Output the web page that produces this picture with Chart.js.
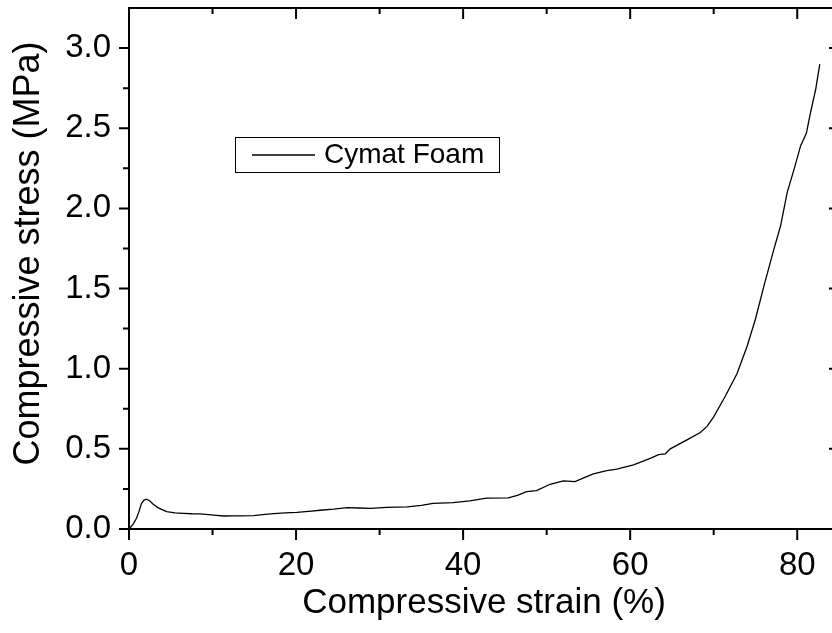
<!DOCTYPE html>
<html>
<head>
<meta charset="utf-8">
<title>Cymat Foam</title>
<script src="https://cdn.jsdelivr.net/npm/chart.js@4"></script>
<style>
  html, body { margin: 0; padding: 0; background: #fff; overflow: hidden; }
  #caja { position: absolute; left: 0; top: 0; width: 852px; height: 633px; }
</style>
</head>
<body>
<div id="caja"><canvas id="grafico"></canvas></div>
<script>
// curva de compresion (deformacion en %, tension en MPa)
const deformacion = [0, 0.5, 0.9, 1.2, 1.5, 1.8, 2.1, 2.5, 2.9, 3.5, 4.5, 5.5, 6.5, 7.5, 8.5, 9.5,
  10.5, 11.3, 12.5, 13.5, 14.9, 16, 17.3, 18.7, 20.1, 21.5, 22.9, 24.5, 26.1, 27.5, 28.9, 30.9,
  33.3, 35, 36.4, 38.8, 40.8, 42.8, 45.4, 46.5, 47.6, 48.8, 50.4, 52, 53.4, 54.5, 55.6, 57.2,
  58.4, 60.4, 62.4, 63.4, 64.2, 64.8, 66.8, 68.4, 69.2, 70, 71.4, 72.8, 74, 75, 76, 77.2,
  78, 78.8, 79.6, 80.4, 81.1, 81.6, 82.2, 82.7]
const tension = [0, 0.03, 0.067, 0.11, 0.16, 0.18, 0.186, 0.175, 0.155, 0.132, 0.108, 0.101, 0.098, 0.095, 0.094, 0.09,
  0.085, 0.081, 0.082, 0.082, 0.083, 0.09, 0.096, 0.1, 0.104, 0.11, 0.117, 0.124, 0.133, 0.131, 0.129, 0.135,
  0.138, 0.148, 0.16, 0.165, 0.175, 0.192, 0.194, 0.21, 0.233, 0.24, 0.279, 0.3, 0.296, 0.32, 0.344, 0.364,
  0.373, 0.4, 0.44, 0.464, 0.469, 0.5, 0.556, 0.602, 0.64, 0.7, 0.83, 0.97, 1.14, 1.31, 1.514, 1.744,
  1.89, 2.1, 2.24, 2.39, 2.47, 2.6, 2.74, 2.9]

// marcas de los ejes
const ticksX = [0, 20, 40, 60, 80]
const ticksXmenores = [10, 30, 50, 70]
const ticksY = [0, 0.5, 1, 1.5, 2, 2.5, 3]
const ticksYmenores = [0.25, 0.75, 1.25, 1.75, 2.25, 2.75]

const tituloEjeY = 'Compressive stress (MPa)'
const fuente = 'Arial, "Liberation Sans", sans-serif'

let puntos = deformacion.map((x, i) => ({ x: x, y: tension[i] }))

// caja del grafico con marcas hacia fuera (izq/abajo) y hacia dentro (arriba/der)
const marcoEjes = {
    id: 'marcoEjes',
    afterDraw(chart) {
        const ctx = chart.ctx
        const a = chart.chartArea
        const sx = chart.scales.x
        const sy = chart.scales.y
        ctx.save()
        ctx.strokeStyle = '#000'
        ctx.lineWidth = 2
        ctx.strokeRect(a.left, a.top, a.right - a.left, a.bottom - a.top)
        const marca = (lista, largo) => {
            lista.forEach(v => {
                let px = sx.getPixelForValue(v)
                ctx.beginPath()
                ctx.moveTo(px, a.bottom); ctx.lineTo(px, a.bottom + largo)
                ctx.moveTo(px, a.top); ctx.lineTo(px, a.top + largo)
                ctx.stroke()
            })
        }
        const marcaY = (lista, largo) => {
            lista.forEach(v => {
                let py = sy.getPixelForValue(v)
                ctx.beginPath()
                ctx.moveTo(a.left, py); ctx.lineTo(a.left - largo, py)
                ctx.moveTo(a.right, py); ctx.lineTo(a.right - largo, py)
                ctx.stroke()
            })
        }
        marca(ticksX, 11)
        marca(ticksXmenores, 6)
        marcaY(ticksY, 10)
        marcaY(ticksYmenores, 6)

        // titulo vertical, un poco por encima del centro
        ctx.translate(29, (a.top + a.bottom) / 2 - 15)
        ctx.rotate(-Math.PI / 2)
        ctx.fillStyle = '#000'
        ctx.font = `36px ${fuente}`
        ctx.textAlign = 'center'
        ctx.textBaseline = 'middle'
        ctx.fillText(tituloEjeY, 0, 0)
        ctx.restore()
    }
}

// leyenda con recuadro dentro del area
const leyendaCaja = {
    id: 'leyendaCaja',
    afterDraw(chart) {
        const ctx = chart.ctx
        const a = chart.chartArea
        const ds = chart.data.datasets[0]
        let x0 = a.left + 106, y0 = a.top + 129
        ctx.save()
        ctx.fillStyle = '#fff'
        ctx.fillRect(x0, y0, 264, 35)
        ctx.strokeStyle = '#000'
        ctx.lineWidth = 1
        ctx.strokeRect(x0 + 0.5, y0 + 0.5, 264, 35)
        ctx.strokeStyle = ds.borderColor
        ctx.lineWidth = ds.borderWidth
        ctx.beginPath()
        ctx.moveTo(x0 + 17, y0 + 18)
        ctx.lineTo(x0 + 80, y0 + 18)
        ctx.stroke()
        ctx.fillStyle = '#000'
        ctx.font = `28px ${fuente}`
        ctx.textBaseline = 'middle'
        ctx.fillText(ds.label, x0 + 89, y0 + 18)
        ctx.restore()
    }
}

// sin relleno automatico para las etiquetas de los extremos
function sinRelleno(escala) {
    escala.paddingTop = 0
    escala.paddingBottom = 0
    escala.paddingLeft = 0
    escala.paddingRight = 0
}

let grafico = new Chart('grafico', {
    type: 'line',
    data: {
        datasets: [{
            label: 'Cymat Foam',
            data: puntos,
            borderColor: '#000',
            borderWidth: 1.3,
            pointRadius: 0,
            tension: 0,
            fill: false
        }]
    },
    options: {
        responsive: true,
        maintainAspectRatio: false,
        animation: false,
        layout: { padding: { top: 8, right: 13, left: 0, bottom: 0 } },
        plugins: {
            legend: { display: false },
            tooltip: { enabled: false }
        },
        scales: {
            x: {
                type: 'linear',
                min: 0,
                max: 85,
                afterBuildTicks: escala => { escala.ticks = ticksX.map(v => ({ value: v })) },
                afterFit: escala => { escala.height = 104; sinRelleno(escala) },
                grid: { display: false, drawTicks: false },
                border: { display: false },
                ticks: {
                    color: '#000',
                    padding: 17,
                    maxRotation: 0,
                    font: { family: fuente, size: 33 },
                    callback: v => v
                },
                title: {
                    display: true,
                    text: 'Compressive strain (%)',
                    color: '#000',
                    font: { family: fuente, size: 35 },
                    padding: { top: 0, bottom: 9 }
                }
            },
            y: {
                min: 0,
                max: 3.25,
                afterBuildTicks: escala => { escala.ticks = ticksY.map(v => ({ value: v })) },
                afterFit: escala => { escala.width = 129; sinRelleno(escala) },
                grid: { display: false, drawTicks: false },
                border: { display: false },
                ticks: {
                    color: '#000',
                    padding: 18,
                    font: { family: fuente, size: 33 },
                    callback: v => v.toFixed(1)
                },
                title: { display: false }
            }
        }
    },
    plugins: [marcoEjes, leyendaCaja]
})
</script>
</body>
</html>
